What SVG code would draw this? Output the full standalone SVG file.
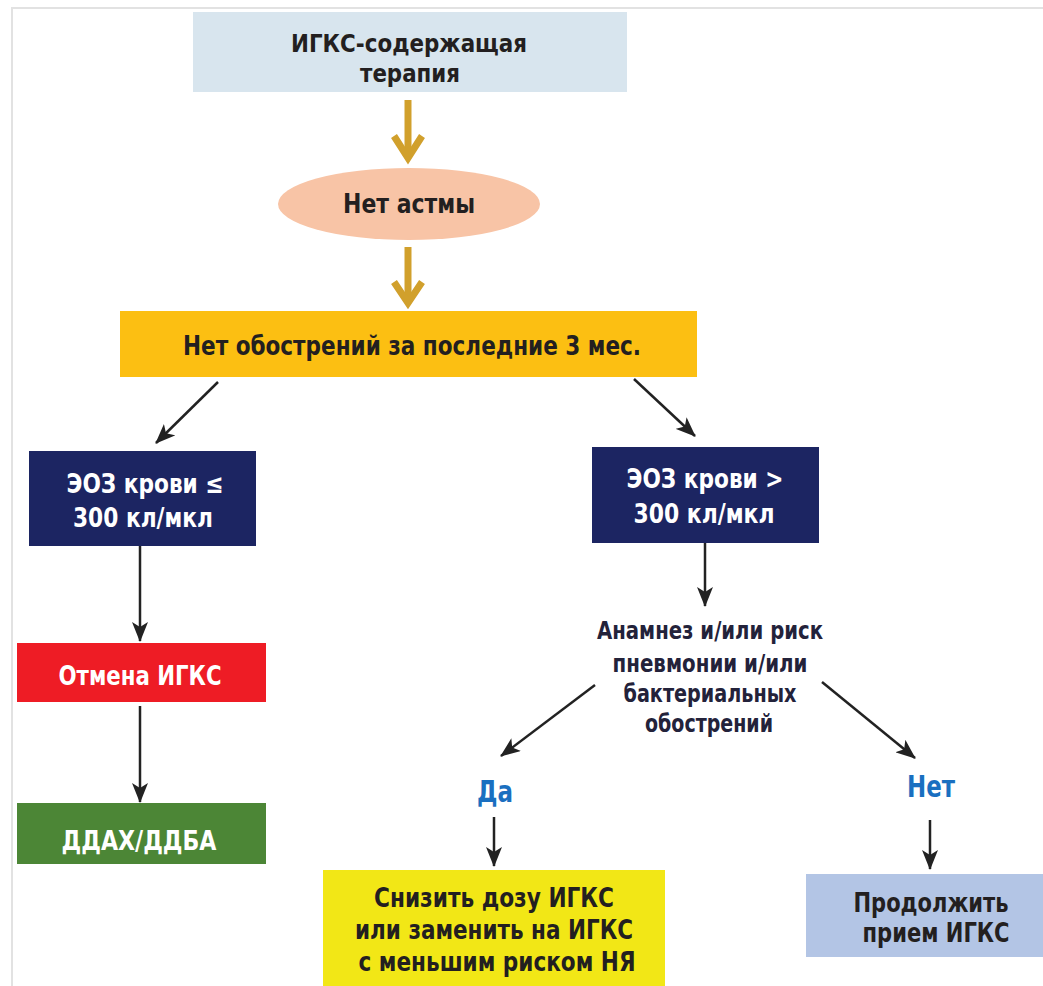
<svg xmlns="http://www.w3.org/2000/svg" width="1043" height="986" viewBox="0 0 1043 986">
<style>
text{font-family:"Liberation Sans Narrow","DejaVu Sans Condensed","Liberation Sans",sans-serif;font-weight:bold;text-anchor:middle;font-stretch:condensed}
.d{fill:#231f20;font-size:27px}
.t{fill:#231f20;font-size:25px}
.w{fill:#ffffff;font-size:27px}
.b{fill:#1a6fc0;font-size:31px}
.a{fill:#23223a;font-size:25px}
.ln{stroke:#222;stroke-width:2.5;fill:none;marker-end:url(#ah)}
.gold{stroke:#d1a02c;stroke-width:7;fill:none}
</style>
<defs>
<marker id="ah" viewBox="0 0 20 16" refX="19" refY="8" markerWidth="20" markerHeight="16" markerUnits="userSpaceOnUse" orient="auto">
<path d="M0,0 L20,8 L0,16 L5,8 Z" fill="#222"/>
</marker>
</defs>
<rect width="1043" height="986" fill="#ffffff"/>
<path d="M12,986 V8 H1043" fill="none" stroke="#e2e2e2" stroke-width="2"/>

<g id="n_top">
<rect x="193" y="12" width="434" height="80" fill="#d8e5ee"/>
<text class="t" x="409" y="52" textLength="236" lengthAdjust="spacingAndGlyphs">ИГКС-содержащая</text>
<text class="t" x="410" y="82" textLength="100" lengthAdjust="spacingAndGlyphs">терапия</text>
</g>
<g id="n_noasthma">
<ellipse cx="409" cy="204" rx="131" ry="36" fill="#f8c4a6"/>
<text class="d" x="409" y="213" textLength="132" lengthAdjust="spacingAndGlyphs">Нет астмы</text>
</g>
<g id="n_noexac">
<rect x="120" y="311" width="577" height="66" fill="#fcbf12"/>
<text class="d" x="412" y="355" textLength="458" lengthAdjust="spacingAndGlyphs">Нет обострений за последние 3 мес.</text>
</g>
<g id="n_eos_low">
<rect x="29" y="451" width="227" height="95" fill="#1c2562"/>
<text class="w" x="145" y="493" textLength="157" lengthAdjust="spacingAndGlyphs">ЭОЗ крови ≤</text>
<text class="w" x="143" y="527" textLength="140" lengthAdjust="spacingAndGlyphs">300 кл/мкл</text>
</g>
<g id="n_eos_high">
<rect x="592" y="447" width="227" height="96" fill="#1c2562"/>
<text class="w" x="705" y="488" textLength="157" lengthAdjust="spacingAndGlyphs">ЭОЗ крови &gt;</text>
<text class="w" x="704" y="523" textLength="141" lengthAdjust="spacingAndGlyphs">300 кл/мкл</text>
</g>
<g id="n_cancel">
<rect x="17" y="643" width="249" height="59" fill="#ee1c25"/>
<text class="w" x="140" y="685" textLength="163" lengthAdjust="spacingAndGlyphs">Отмена ИГКС</text>
</g>
<g id="n_ddax">
<rect x="17" y="803" width="249" height="61" fill="#4c8636"/>
<text class="w" x="139" y="850" textLength="155" lengthAdjust="spacingAndGlyphs">ДДАХ/ДДБА</text>
</g>
<g id="n_history">
<text class="a" x="710" y="639" textLength="226" lengthAdjust="spacingAndGlyphs">Анамнез и/или риск</text>
<text class="a" x="710" y="672" textLength="195" lengthAdjust="spacingAndGlyphs">пневмонии и/или</text>
<text class="a" x="710" y="702" textLength="173" lengthAdjust="spacingAndGlyphs">бактериальных</text>
<text class="a" x="709" y="732" textLength="128" lengthAdjust="spacingAndGlyphs">обострений</text>
</g>
<g id="n_yes">
<text class="b" x="495" y="802" textLength="36" lengthAdjust="spacingAndGlyphs">Да</text>
</g>
<g id="n_no">
<text class="b" x="931" y="797" textLength="48" lengthAdjust="spacingAndGlyphs">Нет</text>
</g>
<g id="n_reduce">
<rect x="323" y="870" width="342" height="116" fill="#f2e716"/>
<text class="d" x="494" y="907" textLength="240" lengthAdjust="spacingAndGlyphs">Снизить дозу ИГКС</text>
<text class="d" x="494" y="939" textLength="278" lengthAdjust="spacingAndGlyphs">или заменить на ИГКС</text>
<text class="d" x="497" y="971" textLength="277" lengthAdjust="spacingAndGlyphs">с меньшим риском НЯ</text>
</g>
<g id="n_continue">
<rect x="806" y="874" width="237" height="83" fill="#b3c5e5"/>
<text class="d" x="931" y="912" textLength="155" lengthAdjust="spacingAndGlyphs">Продолжить</text>
<text class="d" x="936" y="942" textLength="147" lengthAdjust="spacingAndGlyphs">прием ИГКС</text>
</g>

<g id="connectors">
<line class="gold" x1="408" y1="100" x2="408" y2="158"/>
<polyline class="gold" points="394,136 408,158 422,136"/>
<line class="gold" x1="408" y1="247" x2="408" y2="303"/>
<polyline class="gold" points="394,282 408,303 422,282"/>
<line class="ln" x1="218" y1="382" x2="156" y2="443"/>
<line class="ln" x1="634" y1="379" x2="695" y2="436"/>
<line class="ln" x1="140" y1="546" x2="140" y2="641"/>
<line class="ln" x1="140" y1="706" x2="140" y2="802"/>
<line class="ln" x1="705" y1="543" x2="705" y2="606"/>
<line class="ln" x1="595" y1="685" x2="501" y2="756"/>
<line class="ln" x1="822" y1="682" x2="915" y2="758"/>
<line class="ln" x1="494" y1="817" x2="494" y2="866"/>
<line class="ln" x1="930" y1="820" x2="930" y2="869"/>
</g>
</svg>
